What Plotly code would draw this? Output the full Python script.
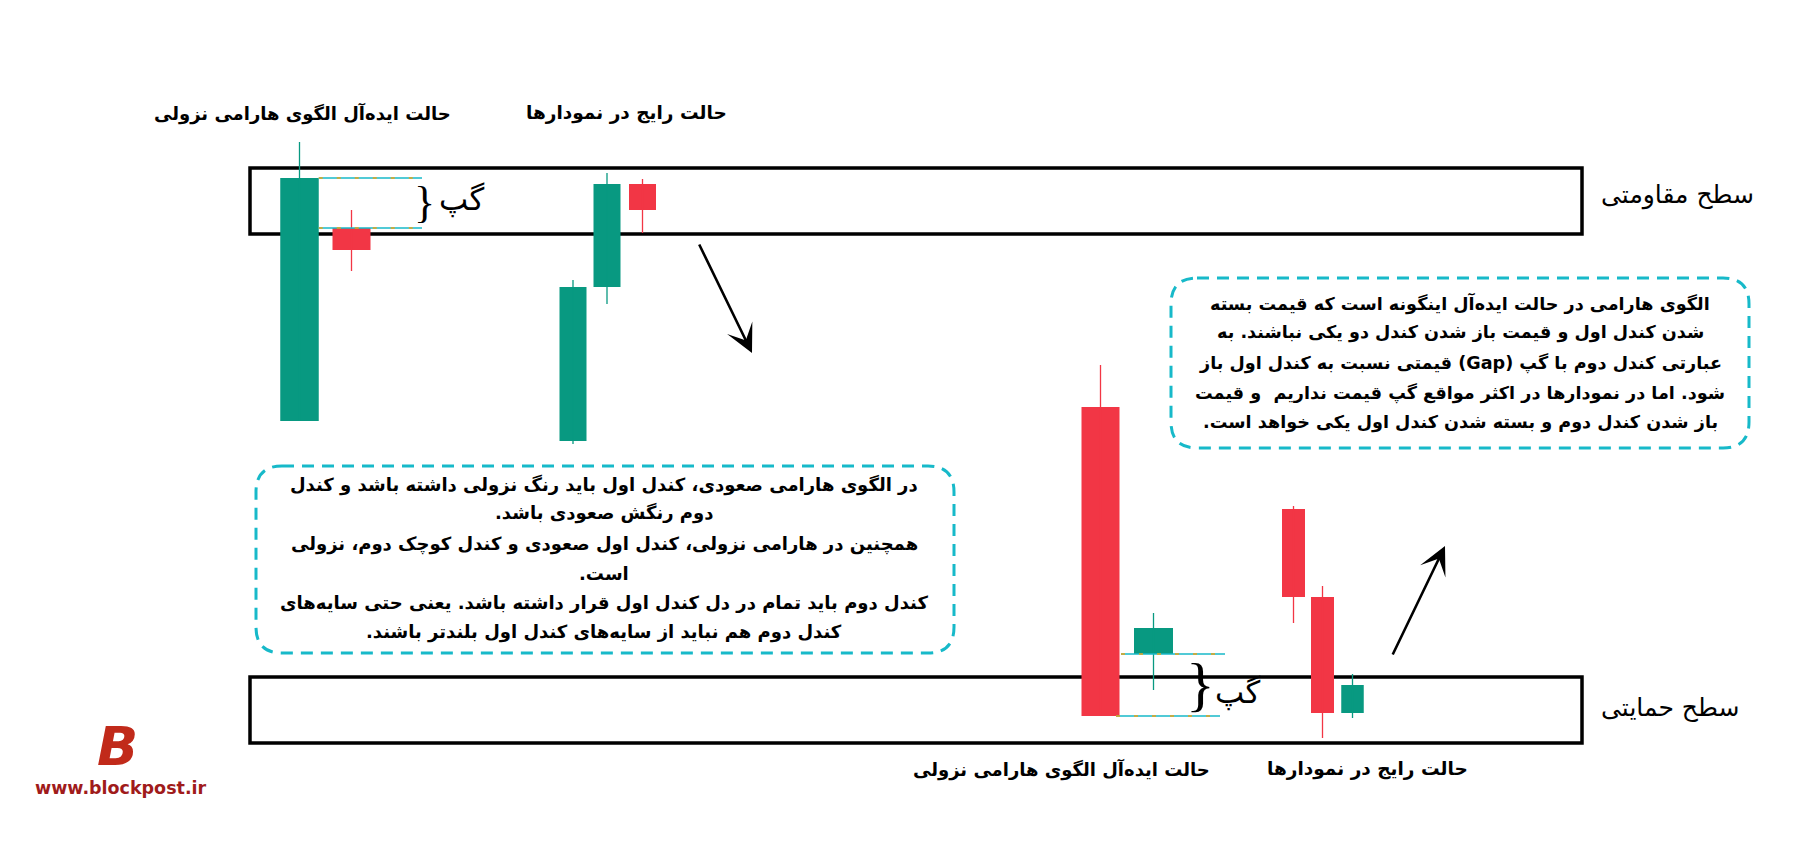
import plotly.graph_objects as go

W, H = 1820, 845

# ---------------- data ----------------
cand_x = [299.5, 351.5, 573, 607, 642.5, 1100.5, 1153.5, 1293.5, 1322.5, 1352.5]
cand_w = [38.5, 38, 27, 27, 27, 38, 39, 23, 23, 22.5]
cand_open = [424, 617, 404, 558, 661, 438, 191, 336, 248, 132]
cand_high = [703, 635, 565, 672, 666, 480, 232, 339, 259, 171]
cand_low = [424, 574, 401, 541, 612, 129, 155, 222, 107, 127]
cand_close = [667, 595, 558, 661, 635, 129, 217, 248, 132, 160]

resistance_zone = [611, 677]
support_zone = [102, 168]
zone_x = [250, 1582]

top_titles = ["حالت ایده‌آل الگوی هارامی نزولی", "حالت رایج در نمودارها"]
bottom_titles = ["حالت ایده‌آل الگوی هارامی نزولی", "حالت رایج در نمودارها"]
zone_labels = ["سطح مقاومتی", "سطح حمایتی"]
gap_label = "گپ"

box1_lines = [
    "در الگوی هارامی صعودی، کندل اول باید رنگ نزولی داشته باشد و کندل",
    "دوم رنگش صعودی باشد.",
    "همچنین در هارامی نزولی، کندل اول صعودی و کندل کوچک دوم، نزولی",
    "است.",
    "کندل دوم باید تمام در دل کندل اول قرار داشته باشد. یعنی حتی سایه‌های",
    "کندل دوم هم نباید از سایه‌های کندل اول بلندتر باشند.",
]
box2_lines = [
    "الگوی هارامی در حالت ایده‌آل اینگونه است که قیمت بسته",
    "شدن کندل اول و قیمت باز شدن کندل دو یکی نباشند. به",
    "عبارتی کندل دوم با گپ (Gap) قیمتی نسبت به کندل اول باز",
    "شود. اما در نمودارها در اکثر مواقع گپ قیمت نداریم  و قیمت",
    "باز شدن کندل دوم و بسته شدن کندل اول یکی خواهد است.",
]

GREEN = "#089981"
RED = "#f23645"
TEAL = "#17b9c9"
ORANGE = "#e8a317"


def rtl(s):
    return "\u202b" + s + "\u202c"


def py(p):
    """pixel row -> price units (chart is 845 units tall)"""
    return H - p


fig = go.Figure()

# candle bodies
colors = [GREEN if c >= o else RED for o, c in zip(cand_open, cand_close)]
fig.add_trace(go.Bar(
    x=cand_x,
    y=[abs(c - o) for o, c in zip(cand_open, cand_close)],
    base=[min(o, c) for o, c in zip(cand_open, cand_close)],
    width=cand_w,
    marker=dict(color=colors, line=dict(width=0)),
    hoverinfo="skip",
    showlegend=False,
))

# wicks
for col in (GREEN, RED):
    xs, ys = [], []
    for i in range(len(cand_x)):
        if colors[i] == col:
            xs += [cand_x[i], cand_x[i], None]
            ys += [cand_low[i], cand_high[i], None]
    fig.add_trace(go.Scatter(x=xs, y=ys, mode="lines",
                             line=dict(color=col, width=1.3),
                             hoverinfo="skip", showlegend=False))

# gap marker lines (derived from candle levels)
gap_segments = [
    ([cand_x[0] + cand_w[0] / 2, 422], cand_close[0]),
    ([cand_x[0] + cand_w[0] / 2, 422], cand_open[1]),
    ([1121, 1225], cand_open[6]),
    ([1116, 1220], cand_close[5]),
]
for xs, yv in gap_segments:
    fig.add_trace(go.Scatter(x=xs, y=[yv, yv], mode="lines",
                             line=dict(color=TEAL, width=1.6),
                             hoverinfo="skip", showlegend=False))
    fig.add_trace(go.Scatter(x=xs, y=[yv, yv], mode="lines",
                             line=dict(color=ORANGE, width=1.6, dash="4px,14px"),
                             hoverinfo="skip", showlegend=False))

shapes = []
# resistance / support boxes
for z in (resistance_zone, support_zone):
    shapes.append(dict(type="rect", xref="x", yref="y",
                       x0=zone_x[0], x1=zone_x[1], y0=z[0], y1=z[1],
                       line=dict(color="black", width=3.5), layer="below"))


def rounded(x0, x1, y0, y1, r):
    # y0 bottom, y1 top (data units)
    return (f"M {x0+r},{y1} L {x1-r},{y1} Q {x1},{y1} {x1},{y1-r} "
            f"L {x1},{y0+r} Q {x1},{y0} {x1-r},{y0} L {x0+r},{y0} "
            f"Q {x0},{y0} {x0},{y0+r} L {x0},{y1-r} Q {x0},{y1} {x0+r},{y1} Z")


for (bx0, bx1, by0, by1) in [(256, 954, py(653), py(466)), (1171, 1749, py(448), py(278))]:
    shapes.append(dict(type="path", xref="x", yref="y",
                       path=rounded(bx0, bx1, by0, by1, 26),
                       line=dict(color=TEAL, width=3, dash="12px,8px"), layer="below"))

ann = []
FONT = "DejaVu Sans"

# titles
ann.append(dict(x=302, y=py(113), text=rtl(top_titles[0]), showarrow=False,
                font=dict(family=FONT, size=18, color="black", weight="bold")))
ann.append(dict(x=626, y=py(113), text=rtl(top_titles[1]), showarrow=False,
                font=dict(family=FONT, size=18.5, color="black", weight="bold")))
ann.append(dict(x=1061, y=py(769), text=rtl(bottom_titles[0]), showarrow=False,
                font=dict(family=FONT, size=18, color="black", weight="bold")))
ann.append(dict(x=1367, y=py(769), text=rtl(bottom_titles[1]), showarrow=False,
                font=dict(family=FONT, size=18.5, color="black", weight="bold")))

# zone labels
ann.append(dict(x=1677, y=py(195), text=rtl(zone_labels[0]), showarrow=False,
                font=dict(family=FONT, size=25, color="black")))
ann.append(dict(x=1670, y=py(708), text=rtl(zone_labels[1]), showarrow=False,
                font=dict(family=FONT, size=25, color="black")))

# gap labels and braces
ann.append(dict(x=461, y=py(199), text=rtl(gap_label), showarrow=False,
                font=dict(family=FONT, size=31, color="black")))
ann.append(dict(x=1237, y=py(692), text=rtl(gap_label), showarrow=False,
                font=dict(family=FONT, size=31, color="black")))
ann.append(dict(x=424, y=py(202), text="}", showarrow=False,
                font=dict(family="Liberation Serif", size=44, color="black")))
ann.append(dict(x=1200, y=py(684), text="}", showarrow=False,
                font=dict(family="Liberation Serif", size=60, color="black")))

# text boxes
for line, yy in zip(box1_lines, [485, 513, 544, 573, 603, 632]):
    ann.append(dict(x=604, y=py(yy), text=rtl(line), showarrow=False,
                    font=dict(family=FONT, size=18, color="black", weight="bold")))
for line, yy in zip(box2_lines, [303, 332, 363, 393, 422]):
    ann.append(dict(x=1460, y=py(yy), text=rtl(line), showarrow=False,
                    font=dict(family=FONT, size=17.6, color="black", weight="bold")))

# arrows
ann.append(dict(x=752, y=py(353), ax=698.5, ay=py(243), xref="x", yref="y",
                axref="x", ayref="y", text="", showarrow=True,
                arrowhead=3, arrowsize=1.8, arrowwidth=2.6, arrowcolor="black"))
ann.append(dict(x=1445, y=py(546), ax=1392, ay=py(656), xref="x", yref="y",
                axref="x", ayref="y", text="", showarrow=True,
                arrowhead=3, arrowsize=1.8, arrowwidth=2.6, arrowcolor="black"))

# logo
ann.append(dict(x=117, y=py(746), text="B", showarrow=False,
                font=dict(family="DejaVu Sans", size=54, color="#c12a1a",
                          weight="bold", style="italic")))
ann.append(dict(x=121, y=py(788), text="www.blockpost.ir", showarrow=False,
                font=dict(family="DejaVu Sans", size=17.5, color="#a01b1b", weight="bold")))

fig.update_layout(
    width=W, height=H,
    margin=dict(l=0, r=0, t=0, b=0),
    paper_bgcolor="white", plot_bgcolor="white",
    barmode="overlay",
    showlegend=False,
    shapes=shapes,
    annotations=ann,
    xaxis=dict(range=[0, W], visible=False, fixedrange=True),
    yaxis=dict(range=[0, H], visible=False, fixedrange=True),
)

fig.write_html("out.html")
